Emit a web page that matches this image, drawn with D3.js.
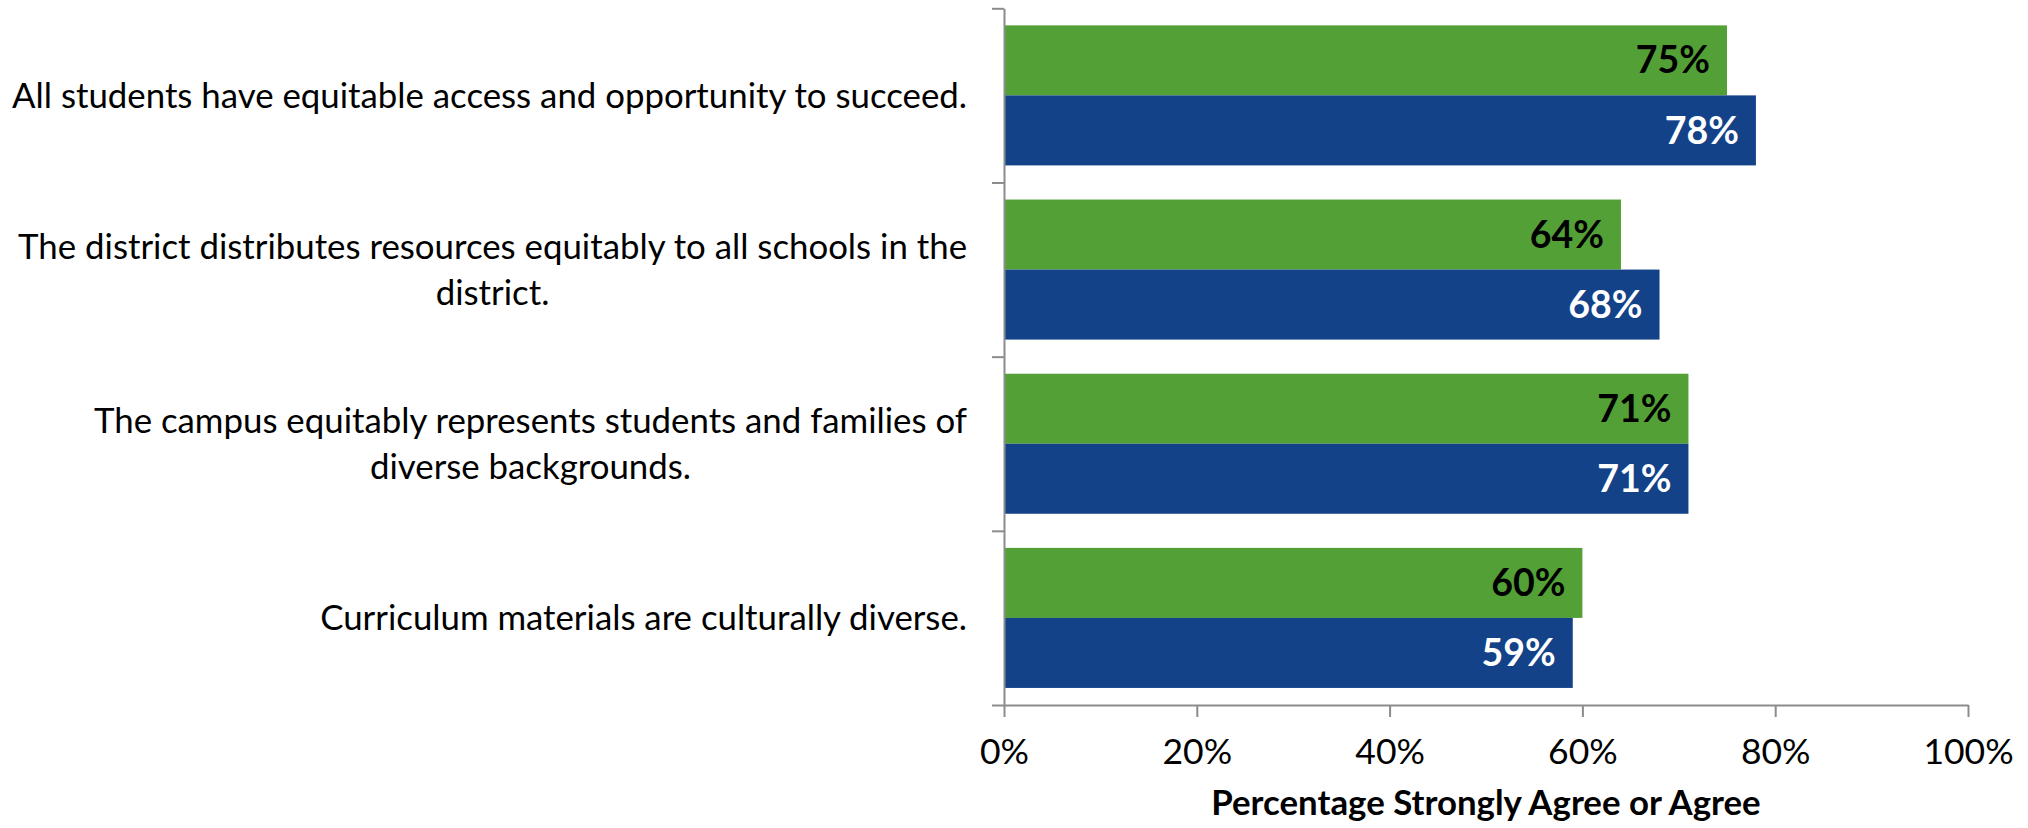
<!DOCTYPE html>
<html>
<head>
<meta charset="utf-8">
<script src="https://cdn.jsdelivr.net/npm/d3@7"></script>
<style>
  html, body { margin: 0; padding: 0; background: #ffffff; }
  svg { display: block; }
  text { font-family: Lato, "Open Sans", sans-serif; }
</style>
</head>
<body>
<svg id="chart" width="2028" height="828"></svg>
<script>
// ---- data ----
const categoryLines = [
  ["All students have equitable access and opportunity to succeed."],
  ["The district distributes resources equitably to all schools in the", "district."],
  ["The campus equitably represents students and families of", "diverse backgrounds."],
  ["Curriculum materials are culturally diverse."]
];
const categories = categoryLines.map(l => l.join(" "));
const seriesNames = ["Series 1", "Series 2"];
const series1Values = [75, 64, 71, 60];   // green
const series2Values = [78, 68, 71, 59];   // blue
const xTickValues = [0, 20, 40, 60, 80, 100];
const axisTitle = "Percentage Strongly Agree or Agree";

// ---- layout ----
const svg = d3.select("#chart");
const W = 2028, H = 828;
const plotLeft = 1004, plotRight = 1968, plotTop = 8.3, plotBottom = 705;
const colors = { "Series 1": "#53a036", "Series 2": "#134289" };
const labelColors = { "Series 1": "#000000", "Series 2": "#ffffff" };
const axisColor = "#8c8c8c";
const catFont = 34.8, tickFont = 35.5, valFont = 37.5, titleFont = 34.8;

svg.append("rect").attr("width", W).attr("height", H).attr("fill", "#ffffff");

const x = d3.scaleLinear().domain([0, 100]).range([plotLeft, plotRight]);
const y = d3.scaleBand().domain(categories).range([plotTop, plotBottom])
  .paddingInner(0.196).paddingOuter(0.098);
const ySub = d3.scaleBand().domain(seriesNames).range([0, y.bandwidth()]);
const yBound = d3.scaleLinear().domain([0, categories.length]).range([plotTop, plotBottom]);

const rows = categories.map((c, i) => ({
  cat: c,
  lines: categoryLines[i],
  vals: [
    { s: seriesNames[0], v: series1Values[i] },
    { s: seriesNames[1], v: series2Values[i] }
  ]
}));

// bars
const g = svg.append("g");
const catG = g.selectAll("g.cat").data(rows).join("g")
  .attr("class", "cat")
  .attr("transform", d => `translate(0,${y(d.cat)})`);

catG.selectAll("rect").data(d => d.vals).join("rect")
  .attr("x", x(0))
  .attr("y", d => ySub(d.s))
  .attr("width", d => x(d.v) - x(0))
  .attr("height", ySub.bandwidth())
  .attr("fill", d => colors[d.s]);

catG.selectAll("text.val").data(d => d.vals).join("text")
  .attr("class", "val")
  .attr("x", d => x(d.v) - 17)
  .attr("y", d => ySub(d.s) + ySub.bandwidth() / 2 + valFont * 0.35)
  .attr("text-anchor", "end")
  .attr("font-weight", "bold")
  .attr("font-size", valFont)
  .attr("fill", d => labelColors[d.s])
  .text(d => d.v + "%");

// left axis (ticks at category boundaries)
const leftAxis = d3.axisLeft(yBound)
  .tickValues(d3.range(categories.length + 1))
  .tickFormat("")
  .tickSize(12)
  .tickSizeOuter(0);
const la = svg.append("g").attr("transform", `translate(${plotLeft},0)`).call(leftAxis);
la.select(".domain").attr("stroke", axisColor).attr("stroke-width", 2);
la.selectAll(".tick line").attr("stroke", axisColor).attr("stroke-width", 2);

// bottom axis
const bottomAxis = d3.axisBottom(x)
  .tickValues(xTickValues)
  .tickFormat(d => d + "%")
  .tickSize(12)
  .tickSizeOuter(0);
const ba = svg.append("g").attr("transform", `translate(0,${plotBottom})`).call(bottomAxis);
ba.select(".domain").attr("stroke", axisColor).attr("stroke-width", 2);
ba.selectAll(".tick line").attr("stroke", axisColor).attr("stroke-width", 2);
ba.selectAll(".tick text")
  .attr("y", 59).attr("dy", null)
  .attr("font-size", tickFont)
  .attr("font-family", "Lato, sans-serif")
  .attr("fill", "#000");

// category labels
const labelRight = 967;
const lineH = 46;
rows.forEach(r => {
  const cy = y(r.cat) + y.bandwidth() / 2;
  const n = r.lines.length;
  const tg = svg.append("g");
  const texts = r.lines.map((line, i) =>
    tg.append("text")
      .attr("font-size", catFont)
      .attr("fill", "#000")
      .attr("y", cy + (i - (n - 1) / 2) * lineH + catFont * 0.35)
      .text(line));
  const maxW = d3.max(texts, t => t.node().getComputedTextLength());
  texts.forEach(t => t.attr("text-anchor", "middle").attr("x", labelRight - maxW / 2));
});

// axis title
svg.append("text")
  .attr("x", (plotLeft + plotRight) / 2)
  .attr("y", 815)
  .attr("text-anchor", "middle")
  .attr("font-weight", "bold")
  .attr("font-size", titleFont)
  .attr("fill", "#000")
  .text(axisTitle);
</script>
</body>
</html>
